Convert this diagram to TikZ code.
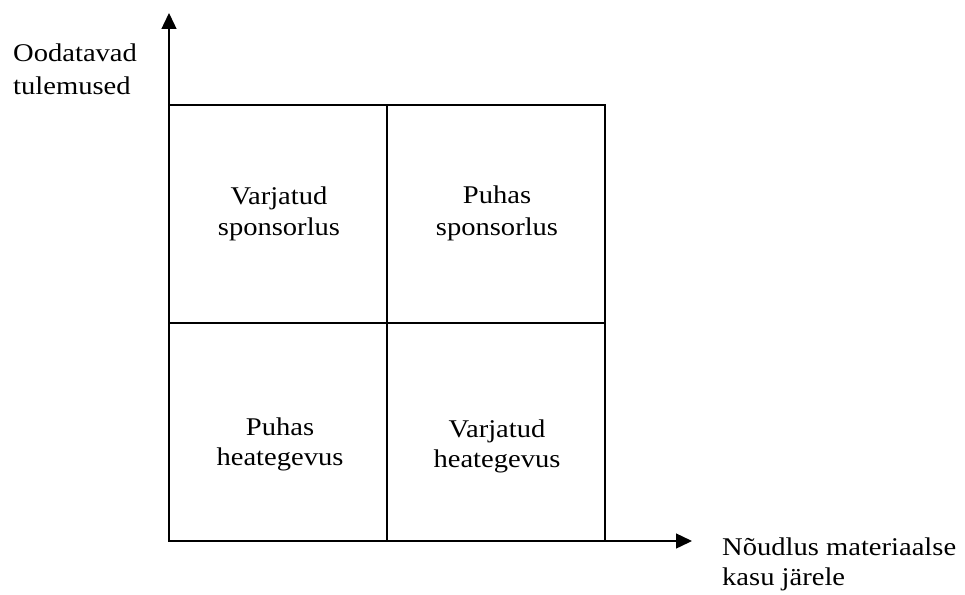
\documentclass[tikz,border=0pt]{standalone}
\usepackage{fontspec}
\setmainfont[FakeStretch=1.12]{Liberation Serif}
\usetikzlibrary{arrows.meta}
\tikzset{
  boxline/.style={line width=2.2pt, line cap=rect},
  axisline/.style={line width=1.4pt, -{Triangle[length=16pt,width=15pt]}},
  lbl/.style={inner sep=0pt, font=\fontsize{25.5}{31}\selectfont},
}
\begin{document}
\begin{tikzpicture}[x=1pt,y=-1pt]
\useasboundingbox (0,0) rectangle (965,594);
% coordinates
\coordinate (O) at (169,541);
\coordinate (ytip) at (169,13);
\coordinate (xtip) at (692,541);
\coordinate (TL) at (169,105);
\coordinate (BR) at (605,541);
\coordinate (Tm) at (387,105);
\coordinate (Bm) at (387,541);
\coordinate (Lm) at (169,323);
\coordinate (Rm) at (605,323);
% axes
\draw[axisline] (O) -- (ytip);
\draw[axisline] (O) -- (xtip);
% grid
\draw[boxline] (TL) rectangle (BR);
\draw[boxline] (Tm) -- (Bm);
\draw[boxline] (Lm) -- (Rm);
% axis labels
\node[lbl, anchor=base west] (ya) at (13,62) {Oodatavad};
\node[lbl, anchor=base west] (yb) at (13,94) {tulemused};
\node[lbl, anchor=base west] (xa) at (722,555) {Nõudlus materiaalse};
\node[lbl, anchor=base west] (xb) at (722,585) {kasu järele};
% cells
\node[lbl, anchor=base] (c1a) at (279,204) {Varjatud};
\node[lbl, anchor=base] (c1b) at (279,235) {sponsorlus};
\node[lbl, anchor=base] (c2a) at (497,203) {Puhas};
\node[lbl, anchor=base] (c2b) at (497,235) {sponsorlus};
\node[lbl, anchor=base] (c3a) at (280,435) {Puhas};
\node[lbl, anchor=base] (c3b) at (280,465) {heategevus};
\node[lbl, anchor=base] (c4a) at (497,437) {Varjatud};
\node[lbl, anchor=base] (c4b) at (497,467) {heategevus};
\end{tikzpicture}
\end{document}
